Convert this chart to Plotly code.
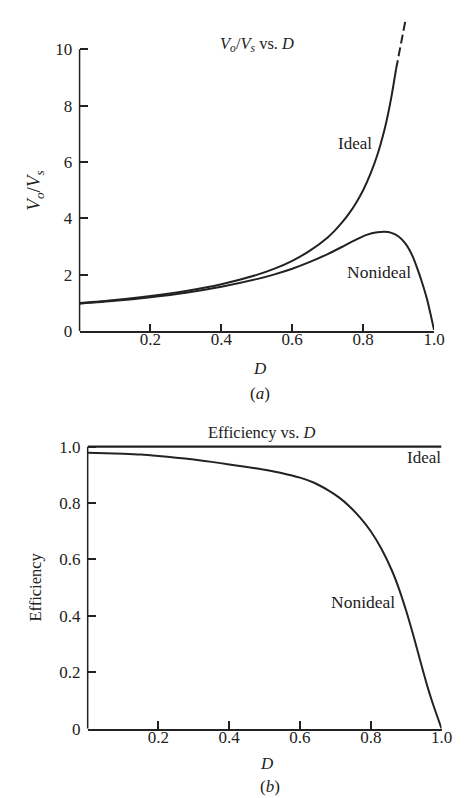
import plotly.graph_objects as go

# ---- data ----
ideal_d = [0, 0.1, 0.2, 0.3, 0.4, 0.5, 0.55, 0.6, 0.65, 0.7, 0.72, 0.74, 0.76, 0.78, 0.8, 0.82, 0.84, 0.86, 0.87, 0.88, 0.893]
ideal_v = [1.0, 1.11, 1.25, 1.43, 1.67, 2.0, 2.22, 2.5, 2.86, 3.33, 3.57, 3.85, 4.17, 4.55, 5.0, 5.56, 6.25, 7.14, 7.69, 8.33, 9.3]
ideal_dash_d = [0.893, 0.919]
ideal_dash_v = [9.3, 11.0]

nonideal_d = [0, 0.1, 0.2, 0.3, 0.4, 0.5, 0.55, 0.6, 0.65, 0.7, 0.74, 0.78, 0.81, 0.84, 0.86, 0.88, 0.9, 0.92, 0.94, 0.955, 0.97, 0.98, 0.99, 1.0]
nonideal_v = [0.98, 1.08, 1.21, 1.37, 1.58, 1.85, 2.02, 2.22, 2.46, 2.74, 2.99, 3.25, 3.42, 3.51, 3.53, 3.49, 3.36, 3.1, 2.65, 2.15, 1.58, 1.15, 0.62, 0.05]

eff_ideal_d = [0, 1.0]
eff_ideal_e = [1.0, 1.0]
eff_nonideal_d = [0, 0.05, 0.1, 0.15, 0.2, 0.25, 0.3, 0.35, 0.4, 0.45, 0.5, 0.55, 0.6, 0.64, 0.68, 0.71, 0.74, 0.77, 0.8, 0.83, 0.86, 0.88, 0.9, 0.92, 0.94, 0.96, 0.975, 0.99, 1.0]
eff_nonideal_e = [0.978, 0.977, 0.975, 0.972, 0.967, 0.961, 0.954, 0.946, 0.937, 0.928, 0.918, 0.906, 0.890, 0.872, 0.845, 0.82, 0.788, 0.748, 0.70, 0.638, 0.56, 0.495, 0.418, 0.332, 0.24, 0.15, 0.09, 0.036, 0.0]

x_tickvals = [0.2, 0.4, 0.6, 0.8, 1.0]
x_ticktext = ["0.2", "0.4", "0.6", "0.8", "1.0"]
top_y_tickvals = [0, 2, 4, 6, 8, 10]
top_y_ticktext = ["0", "2", "4", "6", "8", "10"]
bot_y_tickvals = [0, 0.2, 0.4, 0.6, 0.8, 1.0]
bot_y_ticktext = ["0", "0.2", "0.4", "0.6", "0.8", "1.0"]

INK = "#222222"
FONT = "Liberation Serif"
W, H = 467, 798
PAD = "\u00a0"  # small gap between y tick labels and the spine

fig = go.Figure()
line = dict(color=INK, width=2, shape="spline", smoothing=0.8)

fig.add_trace(go.Scatter(x=ideal_d, y=ideal_v, mode="lines", line=line, xaxis="x", yaxis="y", showlegend=False))
fig.add_trace(go.Scatter(x=ideal_dash_d, y=ideal_dash_v, mode="lines",
                         line=dict(color=INK, width=2, dash="9px,4px"), xaxis="x", yaxis="y", showlegend=False))
fig.add_trace(go.Scatter(x=nonideal_d, y=nonideal_v, mode="lines", line=line, xaxis="x", yaxis="y", showlegend=False))
fig.add_trace(go.Scatter(x=eff_ideal_d, y=eff_ideal_e, mode="lines", line=dict(color=INK, width=2.2),
                         xaxis="x2", yaxis="y2", showlegend=False))
fig.add_trace(go.Scatter(x=eff_nonideal_d, y=eff_nonideal_e, mode="lines", line=line,
                         xaxis="x2", yaxis="y2", showlegend=False))

# pixel geometry
top_x0, top_x1 = 73.3, 436.3
top_y0px = 323.8
top_unit = 28.78
top_ymax = 11.1
bot_x0, bot_x1 = 81.6, 444.0
bot_y0px, bot_y1px = 729.3, 441.5
bot_ymax = 1.01
bot_unit = bot_y0px - bot_y1px

top_dom_y = [1 - top_y0px / H, 1 - (top_y0px - top_ymax * top_unit) / H]
bot_dom_y = [1 - bot_y0px / H, 1 - (bot_y0px - bot_ymax * bot_unit) / H]

axis_common = dict(showgrid=False, zeroline=False, ticks="inside", ticklen=8, tickwidth=1.5,
                   tickcolor=INK, tickfont=dict(family=FONT, size=17, color=INK))

fig.update_layout(
    width=W, height=H, margin=dict(l=0, r=0, t=0, b=0),
    paper_bgcolor="white", plot_bgcolor="white",
    font=dict(family=FONT, size=16, color=INK),
    xaxis=dict(domain=[top_x0 / W, top_x1 / W], range=[0, 1], anchor="y",
               tickvals=x_tickvals, ticktext=x_ticktext, showline=True, linecolor=INK, linewidth=1.5,
               ticklabelstandoff=-8, **axis_common),
    yaxis=dict(domain=top_dom_y, range=[0, top_ymax], anchor="x",
               tickvals=top_y_tickvals, ticktext=[t + PAD for t in top_y_ticktext],
               showline=False, ticklabelstandoff=2, **axis_common),
    xaxis2=dict(domain=[bot_x0 / W, bot_x1 / W], range=[0, 1], anchor="y2",
                tickvals=x_tickvals, ticktext=x_ticktext, showline=True, linecolor=INK, linewidth=1.5,
                ticklabelstandoff=-8, **axis_common),
    yaxis2=dict(domain=bot_dom_y, range=[0, bot_ymax], anchor="x2",
                tickvals=bot_y_tickvals, ticktext=[t + PAD for t in bot_y_ticktext],
                showline=False, ticklabelstandoff=2, **axis_common),
)

# left spines (only up to the top tick)
fig.add_shape(type="line", xref="paper", yref="y", x0=top_x0 / W, x1=top_x0 / W, y0=0, y1=10,
              line=dict(color=INK, width=1.5))
fig.add_shape(type="line", xref="paper", yref="y2", x0=bot_x0 / W, x1=bot_x0 / W, y0=0, y1=1.0,
              line=dict(color=INK, width=1.5))

def ann(text, x, y, xref="paper", yref="paper", angle=0, size=16.5):
    fig.add_annotation(text=text, x=x, y=y, xref=xref, yref=yref, showarrow=False,
                       textangle=angle, font=dict(family=FONT, size=size, color=INK),
                       xanchor="center", yanchor="middle")

ann("<i>V</i><sub><i>o</i></sub>/<i>V</i><sub><i>s</i></sub> vs. <i>D</i>", 254.8 / W, 1 - 31 / H)
ann("<i>V</i><sub><i>o</i></sub>/<i>V</i><sub><i>s</i></sub>", 28 / W, 1 - 180 / H, angle=-90, size=19)
ann("Ideal", 0.776, 6.66, xref="x", yref="y", size=17)
ann("Nonideal", 0.845, 2.11, xref="x", yref="y", size=17.5)
ann("<i>D</i>", 258 / W, 1 - 362 / H, size=17)
ann("(<i>a</i>)", 258 / W, 1 - 387 / H, size=17)

ann("Efficiency vs. <i>D</i>", 260 / W, 1 - 426.7 / H, size=16.5)
ann("Efficiency", 28 / W, 1 - 585 / H, angle=-90, size=16.5)
ann("Ideal", 0.95, 0.96, xref="x2", yref="y2", size=17)
ann("Nonideal", 0.778, 0.449, xref="x2", yref="y2", size=17.5)
ann("<i>D</i>", 265 / W, 1 - 765 / H, size=17)
ann("(<i>b</i>)", 268 / W, 1 - 788 / H, size=17)

fig.write_html("out.html")
